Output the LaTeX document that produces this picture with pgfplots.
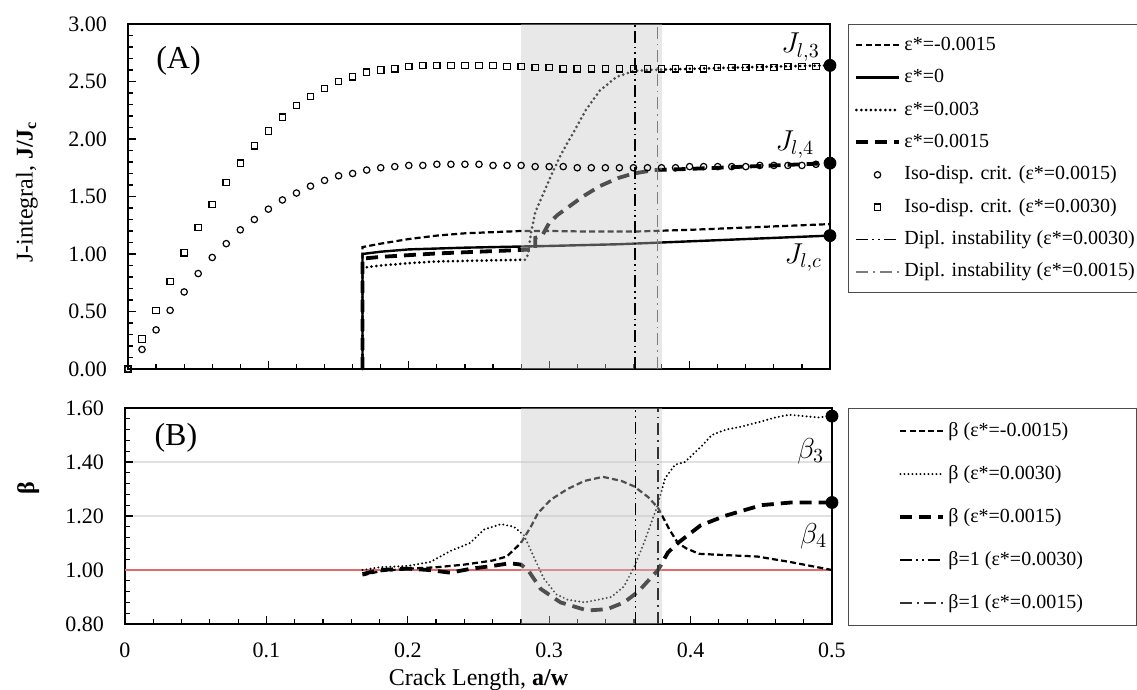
\documentclass[border=0pt]{standalone}
\usepackage{fontspec}
\setmainfont{Liberation Serif}
\usepackage{pgfplots}
\pgfplotsset{compat=1.18}

\definecolor{bandgray}{RGB}{198,198,198}
\definecolor{dipgray}{RGB}{125,125,125}
\definecolor{betared}{RGB}{228,105,105}
\definecolor{gridgray}{RGB}{225,225,225}

\tikzset{
  sdash/.style={line width=1.1pt, dash pattern=on 3pt off 1.6pt},
  ldash/.style={line width=1.9pt, dash pattern=on 6pt off 3.5pt},
  dots/.style={line width=1.5pt, line cap=round, dash pattern=on 0pt off 2.4pt},
  thindots/.style={line width=1.1pt, line cap=round, dash pattern=on 0pt off 2pt},
  dashdotdot/.style={line width=0.8pt, dash pattern=on 6pt off 2pt on 0.8pt off 2pt on 0.8pt off 2pt},
  dashdot/.style={line width=0.8pt, dash pattern=on 6pt off 2.5pt on 0.8pt off 2.5pt},
}

\pgfplotsset{
  base/.style={
    scale only axis, clip=false,
    xmin=0, xmax=0.5, xtick={0,0.1,0.2,0.3,0.4,0.5}, minor x tick num=4,
    tick align=inside, tick pos=left,
    major tick length=4pt, minor tick length=2.5pt,
    every tick/.style={black, line width=0.6pt},
    axis line style={line width=0.9pt},
    tick label style={font=\fontsize{11}{13}\selectfont},
    /pgf/number format/assume math mode=true,
    yticklabel style={xshift=-7pt, /pgf/number format/.cd, fixed, fixed zerofill, precision=2},
    label style={font=\fontsize{12}{14}\selectfont},
    legend cell align=left,
    legend image code/.code={\draw[mark repeat=2,mark phase=2,##1] plot coordinates {(0cm,0cm) (0.37cm,0cm) (0.74cm,0cm)};},
  },
}

\begin{document}
\begin{tikzpicture}
\useasboundingbox (-64pt,12pt) rectangle (504.5pt,-333pt);

% ---------- (A) J-integral ----------
\begin{axis}[base, at={(0,0)}, anchor=north west, width=351pt, height=172.5pt,
  ymin=0, ymax=3, ytick={0,0.5,1,1.5,2,2.5,3}, minor y tick num=4,
  xticklabels={},
  ylabel={J-integral, \textbf{J/J\textsubscript{c}}},
  ylabel style={at={(axis description cs:-0.144,0.514)}, anchor=center},
  legend style={at={(1.0256,1)}, anchor=north west, draw=black!70, line width=0.6pt,
    font=\fontsize{10}{12}\selectfont, inner xsep=3pt, inner ysep=3.3pt,
    nodes={inner sep=2pt, text height=7.5pt, text depth=2.5pt}, row sep=2.2pt},
]
\addplot[black, sdash] coordinates {(0.167,0)(0.167,1.06)(0.18,1.09)(0.20,1.13)(0.22,1.16)(0.24,1.18)(0.26,1.19)(0.28,1.20)(0.30,1.20)(0.33,1.195)(0.36,1.195)(0.40,1.21)(0.45,1.235)(0.5,1.26)};
\addlegendentry{ε*=-0.0015}
\addplot[black, line width=1.2pt] coordinates {(0.167,0)(0.167,1.0)(0.18,1.02)(0.20,1.04)(0.24,1.055)(0.28,1.065)(0.30,1.07)(0.35,1.085)(0.40,1.11)(0.45,1.135)(0.5,1.16)};
\addlegendentry{ε*=0}
\addplot[black, dots] coordinates {(0.167,0)(0.167,0.88)(0.18,0.90)(0.20,0.92)(0.22,0.935)(0.24,0.94)(0.26,0.945)(0.283,0.95)(0.285,1.0)(0.287,1.18)(0.29,1.36)(0.296,1.53)(0.302,1.70)(0.309,1.88)(0.317,2.05)(0.326,2.25)(0.336,2.42)(0.348,2.54)(0.36,2.59)(0.37,2.60)(0.40,2.61)(0.43,2.62)(0.46,2.63)(0.5,2.64)};
\addlegendentry{ε*=0.003}
\addplot[black, ldash] coordinates {(0.167,0)(0.167,0.96)(0.18,0.975)(0.20,0.99)(0.22,1.005)(0.24,1.015)(0.26,1.025)(0.28,1.035)(0.29,1.04)(0.29,1.14)(0.295,1.16)(0.300,1.27)(0.306,1.34)(0.315,1.42)(0.324,1.50)(0.336,1.59)(0.349,1.66)(0.36,1.70)(0.375,1.73)(0.40,1.74)(0.42,1.75)(0.44,1.76)(0.46,1.77)(0.48,1.78)(0.5,1.79)};
\addlegendentry{ε*=0.0015}
\addplot[only marks, mark=o, mark size=1.6pt, mark options={black, line width=0.6pt}] coordinates {
(0,0)(0.01,0.17)(0.02,0.34)(0.03,0.51)(0.04,0.67)(0.05,0.83)(0.06,0.97)(0.07,1.09)(0.08,1.21)(0.09,1.30)
(0.10,1.39)(0.11,1.47)(0.12,1.53)(0.13,1.59)(0.14,1.64)(0.15,1.68)(0.16,1.70)(0.17,1.73)(0.18,1.75)(0.19,1.76)
(0.20,1.77)(0.21,1.77)(0.22,1.78)(0.23,1.78)(0.24,1.78)(0.25,1.78)(0.26,1.77)(0.27,1.77)(0.28,1.77)(0.29,1.76)
(0.30,1.76)(0.31,1.76)(0.32,1.75)(0.33,1.75)(0.34,1.75)(0.35,1.75)(0.36,1.75)(0.37,1.75)(0.38,1.75)(0.39,1.75)
(0.40,1.76)(0.41,1.76)(0.42,1.76)(0.43,1.76)(0.44,1.76)(0.45,1.77)(0.46,1.77)(0.47,1.77)(0.48,1.77)(0.49,1.78)};
\addlegendentry{Iso-disp. crit. (ε*=0.0015)}
\addplot[only marks, mark=square, mark size=1.6pt, mark options={black, line width=0.6pt}] coordinates {
(0,0)(0.01,0.26)(0.02,0.51)(0.03,0.76)(0.04,1.01)(0.05,1.23)(0.06,1.43)(0.07,1.62)(0.08,1.79)(0.09,1.94)
(0.10,2.07)(0.11,2.19)(0.12,2.29)(0.13,2.37)(0.14,2.44)(0.15,2.50)(0.16,2.54)(0.17,2.58)(0.18,2.60)(0.19,2.61)
(0.20,2.63)(0.21,2.64)(0.22,2.64)(0.23,2.64)(0.24,2.64)(0.25,2.64)(0.26,2.64)(0.27,2.63)(0.28,2.63)(0.29,2.62)
(0.30,2.62)(0.31,2.61)(0.32,2.61)(0.33,2.61)(0.34,2.61)(0.35,2.61)(0.36,2.61)(0.37,2.61)(0.38,2.61)(0.39,2.61)
(0.40,2.61)(0.41,2.61)(0.42,2.62)(0.43,2.62)(0.44,2.62)(0.45,2.62)(0.46,2.62)(0.47,2.63)(0.48,2.63)(0.49,2.63)};
\addlegendentry{Iso-disp. crit. (ε*=0.0030)}
% shaded band, drawn over the curves
\addplot[draw=none, fill=bandgray, fill opacity=0.4, forget plot] coordinates {(0.28,0)(0.38,0)(0.38,3)(0.28,3)} -- cycle;
\addplot[black, dashdotdot] coordinates {(0.361,0)(0.361,3)};
\addlegendentry{Dipl. instability (ε*=0.0030)}
\addplot[dipgray, dashdot] coordinates {(0.377,0)(0.377,3)};
\addlegendentry{Dipl. instability (ε*=0.0015)}
\addplot[only marks, mark=*, mark size=3pt, black, forget plot] coordinates {(0.5,2.64)(0.5,1.79)(0.5,1.16)};
\node[font=\fontsize{16}{18}\selectfont] at (axis cs:0.036,2.68) {(A)};
\node at (axis cs:0.479,2.80) {\Large $J_{l,3}$};
\node at (axis cs:0.475,1.95) {\Large $J_{l,4}$};
\node at (axis cs:0.481,0.97) {\Large $J_{l,c}$};
\end{axis}

% ---------- (B) beta ----------
\begin{axis}[base, at={(-1.5pt,-192pt)}, anchor=north west, width=353.5pt, height=108pt,
  ymin=0.8, ymax=1.6, ytick={0.8,1.0,1.2,1.4,1.6}, minor y tick num=4,
  ymajorgrids, grid style={gridgray, line width=0.8pt},
  xticklabel style={yshift=-6pt},
  xlabel={Crack Length, \textbf{a/w}},
  xlabel style={at={(axis description cs:0.5,0)}, anchor=center, yshift=-28pt},
  ylabel={\textbf{β}},
  ylabel style={at={(axis description cs:-0.137,0.63)}, anchor=center},
  legend style={at={(1.0226,1)}, anchor=north west, draw=black!70, line width=0.6pt,
    font=\fontsize{10}{12}\selectfont, inner xsep=25pt, inner ysep=4.25pt,
    nodes={inner sep=2pt, text height=7.5pt, text depth=2.5pt}, row sep=7.5pt},
]
\addplot[betared, line width=0.7pt, forget plot] coordinates {(0,1)(0.5,1)};
\addplot[black, sdash] coordinates {(0.168,0.98)(0.18,0.995)(0.20,1.005)(0.22,1.01)(0.24,1.02)(0.26,1.035)(0.27,1.05)(0.28,1.10)(0.287,1.16)(0.292,1.21)(0.301,1.26)(0.313,1.30)(0.325,1.33)(0.338,1.345)(0.351,1.33)(0.36,1.31)(0.37,1.27)(0.377,1.23)(0.385,1.15)(0.391,1.10)(0.397,1.08)(0.406,1.06)(0.425,1.055)(0.447,1.05)(0.47,1.03)(0.5,1.00)};
\addlegendentry{β (ε*=-0.0015)}
\addplot[black, thindots] coordinates {(0.168,1.0)(0.18,1.01)(0.20,1.015)(0.216,1.03)(0.23,1.07)(0.244,1.10)(0.254,1.15)(0.266,1.17)(0.275,1.16)(0.282,1.13)(0.289,1.05)(0.296,0.97)(0.305,0.91)(0.313,0.89)(0.325,0.88)(0.344,0.90)(0.353,0.94)(0.36,1.01)(0.367,1.10)(0.376,1.23)(0.382,1.34)(0.389,1.39)(0.396,1.40)(0.408,1.46)(0.415,1.50)(0.425,1.52)(0.435,1.53)(0.45,1.55)(0.46,1.565)(0.47,1.575)(0.48,1.57)(0.49,1.565)(0.5,1.57)};
\addlegendentry{β (ε*=0.0030)}
\addplot[black, ldash] coordinates {(0.168,0.985)(0.18,1.0)(0.20,1.005)(0.215,1.0)(0.23,0.99)(0.245,1.005)(0.26,1.015)(0.272,1.025)(0.28,1.02)(0.285,1.00)(0.294,0.93)(0.308,0.88)(0.327,0.85)(0.341,0.855)(0.353,0.88)(0.363,0.92)(0.377,1.00)(0.384,1.065)(0.391,1.10)(0.407,1.165)(0.424,1.20)(0.45,1.24)(0.471,1.25)(0.5,1.25)};
\addlegendentry{β (ε*=0.0015)}
\addplot[draw=none, fill=bandgray, fill opacity=0.4, forget plot] coordinates {(0.28,0.8)(0.38,0.8)(0.38,1.6)(0.28,1.6)} -- cycle;
\addplot[black, dashdotdot] coordinates {(0.361,0.8)(0.361,1.6)};
\addlegendentry{β=1 (ε*=0.0030)}
\addplot[black!80, dashdot] coordinates {(0.377,0.8)(0.377,1.6)};
\addlegendentry{β=1 (ε*=0.0015)}
\addplot[only marks, mark=*, mark size=3pt, black, forget plot] coordinates {(0.5,1.57)(0.5,1.25)};
\node[font=\fontsize{16}{18}\selectfont] at (axis cs:0.036,1.49) {(B)};
\node at (axis cs:0.485,1.44) {\Large $\beta_{3}$};
\node at (axis cs:0.487,1.126) {\Large $\beta_{4}$};
\end{axis}
\end{tikzpicture}
\end{document}
